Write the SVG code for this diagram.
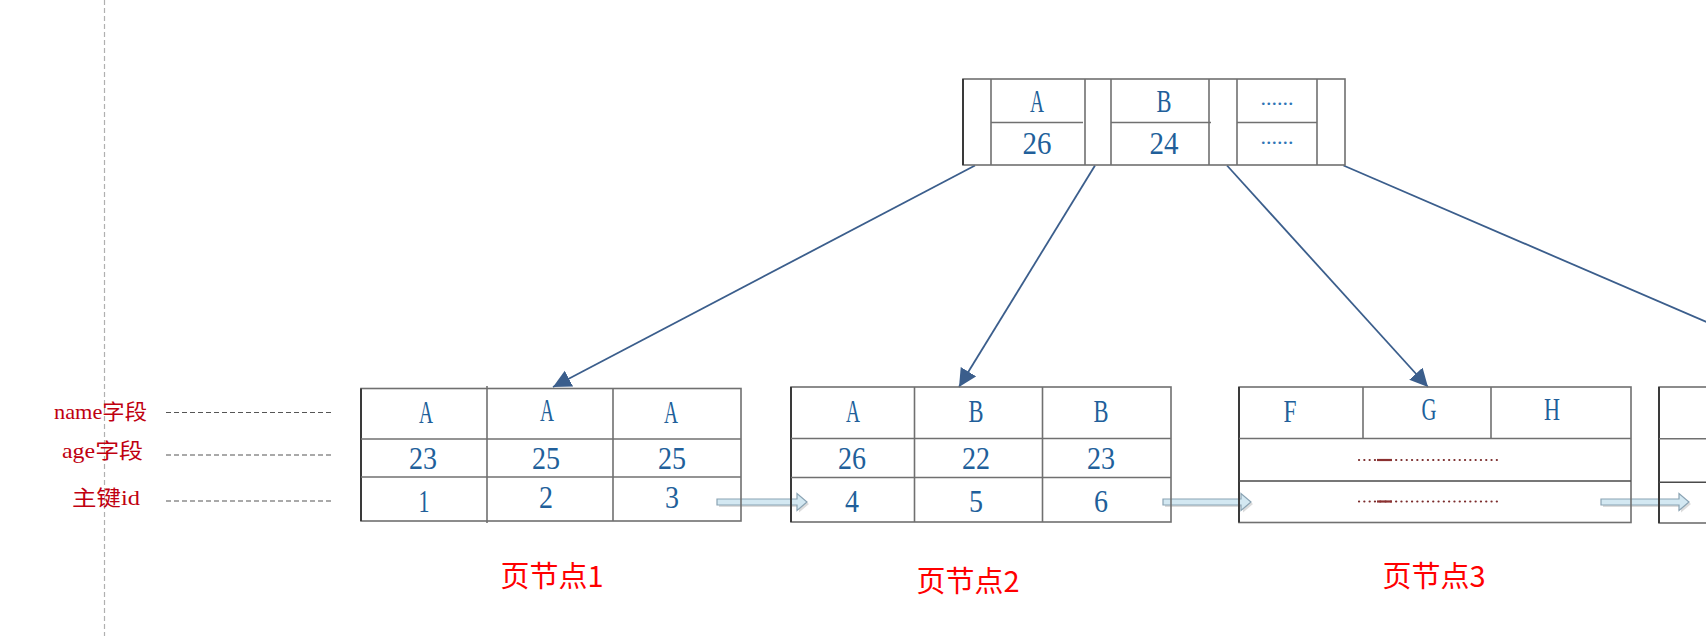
<svg xmlns="http://www.w3.org/2000/svg" width="1706" height="636" viewBox="0 0 1706 636">
<style>
.bg{fill:#ffffff}
.frame{fill:none;stroke:#707070;stroke-width:1.6}
.edge{stroke:#3a3a3a;stroke-width:2}
.ln{stroke:#707070;stroke-width:1.6}
.v{font-family:"Liberation Serif","Noto Sans CJK SC",serif;font-size:32px;fill:#215f9a;text-anchor:middle}
.dots{font-family:"Liberation Serif",serif;font-size:22px;fill:#2e75b6;text-anchor:middle}
.lab{font-family:"Liberation Serif","Noto Sans CJK SC",serif;font-size:21px;fill:#c00010}
.page{font-family:"Noto Sans CJK SC","Liberation Sans",sans-serif;font-size:29px;fill:#ff0000;text-anchor:middle}
.guide{stroke:#555;stroke-width:1.2;stroke-dasharray:5 3}
.vguide{stroke:#b0b0b0;stroke-width:1.2;stroke-dasharray:5 3}
.conn{fill:none;stroke:#3b5e8c;stroke-width:1.8}
.blk{fill:#d3e8f2;stroke:#8aa3b3;stroke-width:1.2}
.shd{fill:#dcdcdc}
.rdots{stroke:#7b2b2b;stroke-width:2.2;stroke-linecap:round;stroke-dasharray:0.1 5.2}
.rdash{stroke:#8b3030;stroke-width:2.2}
</style>
<defs>
<marker id="ah" markerUnits="userSpaceOnUse" markerWidth="20" markerHeight="20" refX="18" refY="9" orient="auto">
<path d="M0,0 L18,9 L0,18 Z" fill="#3b5e8c"/>
</marker>
</defs>
<rect class="bg" x="0" y="0" width="1706" height="636"/>
<line class="vguide" x1="104.5" y1="0" x2="104.5" y2="636"/>

<g id="field-labels">
<text class="lab" x="54" y="419" textLength="93" lengthAdjust="spacingAndGlyphs">name字段</text>
<text class="lab" x="62" y="458" textLength="81" lengthAdjust="spacingAndGlyphs">age字段</text>
<text class="lab" x="72" y="505" textLength="68" lengthAdjust="spacingAndGlyphs">主键id</text>
<line class="guide" x1="166" y1="412.5" x2="331" y2="412.5"/>
<line class="guide" x1="166" y1="455" x2="331" y2="455"/>
<line class="guide" x1="166" y1="501" x2="331" y2="501"/>
</g>

<g id="connectors">
<line class="conn" x1="975" y1="165.5" x2="553" y2="387" marker-end="url(#ah)"/>
<line class="conn" x1="1095" y1="165.5" x2="959" y2="387" marker-end="url(#ah)"/>
<line class="conn" x1="1227" y1="165.5" x2="1428" y2="387" marker-end="url(#ah)"/>
<line class="conn" x1="1343.5" y1="165.5" x2="1856" y2="386.5" marker-end="url(#ah)"/>
<path class="shd" transform="translate(2,2)" d="M717,499 H797 V493.5 L807,502 L797,510.5 V505 H717 Z"/>
<path class="blk" d="M717,499 H797 V493.5 L807,502 L797,510.5 V505 H717 Z"/>
<path class="shd" transform="translate(2,2)" d="M1163,499 H1241 V493.5 L1251,502 L1241,510.5 V505 H1163 Z"/>
<path class="blk" d="M1163,499 H1241 V493.5 L1251,502 L1241,510.5 V505 H1163 Z"/>
<path class="shd" transform="translate(2,2)" d="M1601,499 H1679 V493.5 L1689,502 L1679,510.5 V505 H1601 Z"/>
<path class="blk" d="M1601,499 H1679 V493.5 L1689,502 L1679,510.5 V505 H1601 Z"/>
</g>

<g id="root-node">
<rect class="frame" x="963" y="79" width="382" height="86"/>
<line class="edge" x1="963" y1="79" x2="963" y2="165"/>
<line class="ln" x1="991" y1="79" x2="991" y2="165"/>
<line class="ln" x1="1085" y1="79" x2="1085" y2="165"/>
<line class="ln" x1="1111" y1="79" x2="1111" y2="165"/>
<line class="ln" x1="1209" y1="79" x2="1209" y2="165"/>
<line class="ln" x1="1237" y1="79" x2="1237" y2="165"/>
<line class="ln" x1="1317" y1="79" x2="1317" y2="165"/>
<line class="ln" x1="991" y1="122.5" x2="1083" y2="122.5"/>
<line class="ln" x1="1111" y1="122.5" x2="1211" y2="122.5"/>
<line class="ln" x1="1237" y1="122.5" x2="1317" y2="122.5"/>
<text class="v" x="1037" y="112" textLength="14" lengthAdjust="spacingAndGlyphs">A</text>
<text class="v" x="1164" y="112" textLength="15" lengthAdjust="spacingAndGlyphs">B</text>
<text class="v" x="1037" y="154" textLength="29" lengthAdjust="spacingAndGlyphs">26</text>
<text class="v" x="1164" y="154" textLength="29" lengthAdjust="spacingAndGlyphs">24</text>
<text class="dots" x="1277" y="105">......</text>
<text class="dots" x="1277" y="144">......</text>
</g>

<g id="page-node-1">
<rect class="frame" x="361" y="388.5" width="380" height="132.5"/>
<line class="edge" x1="361" y1="388.5" x2="361" y2="521"/>
<line class="ln" x1="487" y1="386" x2="487" y2="523"/>
<line class="ln" x1="613" y1="388.5" x2="613" y2="521"/>
<line class="ln" x1="361" y1="439" x2="741" y2="439"/>
<line class="ln" x1="361" y1="477" x2="741" y2="477"/>
<text class="v" x="426" y="422.5" textLength="14" lengthAdjust="spacingAndGlyphs">A</text>
<text class="v" x="547" y="421" textLength="14" lengthAdjust="spacingAndGlyphs">A</text>
<text class="v" x="671" y="422.5" textLength="14" lengthAdjust="spacingAndGlyphs">A</text>
<text class="v" x="423" y="468.5" textLength="28" lengthAdjust="spacingAndGlyphs">23</text>
<text class="v" x="546" y="468.5" textLength="28" lengthAdjust="spacingAndGlyphs">25</text>
<text class="v" x="672" y="468.5" textLength="28" lengthAdjust="spacingAndGlyphs">25</text>
<text class="v" x="424" y="512" textLength="11" lengthAdjust="spacingAndGlyphs">1</text>
<text class="v" x="546" y="508" textLength="14" lengthAdjust="spacingAndGlyphs">2</text>
<text class="v" x="672" y="508" textLength="14" lengthAdjust="spacingAndGlyphs">3</text>
</g>

<g id="page-node-2">
<rect class="frame" x="791" y="387" width="380" height="135"/>
<line class="edge" x1="791" y1="387" x2="791" y2="522"/>
<line class="ln" x1="914.5" y1="387" x2="914.5" y2="522"/>
<line class="ln" x1="1042.5" y1="387" x2="1042.5" y2="522"/>
<line class="ln" x1="791" y1="438.5" x2="1171" y2="438.5"/>
<line class="ln" x1="791" y1="477.5" x2="1171" y2="477.5"/>
<text class="v" x="853" y="422" textLength="14" lengthAdjust="spacingAndGlyphs">A</text>
<text class="v" x="976" y="422" textLength="15" lengthAdjust="spacingAndGlyphs">B</text>
<text class="v" x="1101" y="422" textLength="15" lengthAdjust="spacingAndGlyphs">B</text>
<text class="v" x="852" y="468.5" textLength="28" lengthAdjust="spacingAndGlyphs">26</text>
<text class="v" x="976" y="468.5" textLength="28" lengthAdjust="spacingAndGlyphs">22</text>
<text class="v" x="1101" y="468.5" textLength="28" lengthAdjust="spacingAndGlyphs">23</text>
<text class="v" x="852" y="512" textLength="14" lengthAdjust="spacingAndGlyphs">4</text>
<text class="v" x="976" y="512" textLength="14" lengthAdjust="spacingAndGlyphs">5</text>
<text class="v" x="1101" y="512" textLength="14" lengthAdjust="spacingAndGlyphs">6</text>
</g>

<g id="page-node-3">
<rect class="frame" x="1239" y="387" width="392" height="135.5"/>
<line class="edge" x1="1239" y1="387" x2="1239" y2="522.5"/>
<line class="ln" x1="1363" y1="387" x2="1363" y2="438.5"/>
<line class="ln" x1="1491" y1="387" x2="1491" y2="438.5"/>
<line class="ln" x1="1239" y1="438.5" x2="1631" y2="438.5"/>
<line class="edge" x1="1239" y1="481" x2="1631" y2="481" style="stroke-width:1.6;stroke:#4a4a4a"/>
<text class="v" x="1290" y="421.5" textLength="13" lengthAdjust="spacingAndGlyphs">F</text>
<text class="v" x="1429" y="419.5" textLength="15" lengthAdjust="spacingAndGlyphs">G</text>
<text class="v" x="1552" y="419.5" textLength="16" lengthAdjust="spacingAndGlyphs">H</text>
<line class="rdots" x1="1359" y1="460" x2="1502" y2="460"/>
<line class="rdash" x1="1377" y1="460" x2="1392" y2="460"/>
<line class="rdots" x1="1359" y1="501.5" x2="1502" y2="501.5"/>
<line class="rdash" x1="1377" y1="501.5" x2="1392" y2="501.5"/>
</g>

<g id="page-node-4">
<rect class="frame" x="1659" y="387" width="120" height="136"/>
<line class="edge" x1="1659" y1="387" x2="1659" y2="523"/>
<line class="ln" x1="1659" y1="438.7" x2="1706" y2="438.7"/>
<line class="edge" x1="1659" y1="482.3" x2="1706" y2="482.3" style="stroke-width:1.6;stroke:#4a4a4a"/>
</g>

<g id="page-labels">
<text class="page" x="552" y="587" textLength="103" lengthAdjust="spacingAndGlyphs">页节点1</text>
<text class="page" x="968" y="592" textLength="103" lengthAdjust="spacingAndGlyphs">页节点2</text>
<text class="page" x="1434" y="587" textLength="103" lengthAdjust="spacingAndGlyphs">页节点3</text>
</g>
</svg>
